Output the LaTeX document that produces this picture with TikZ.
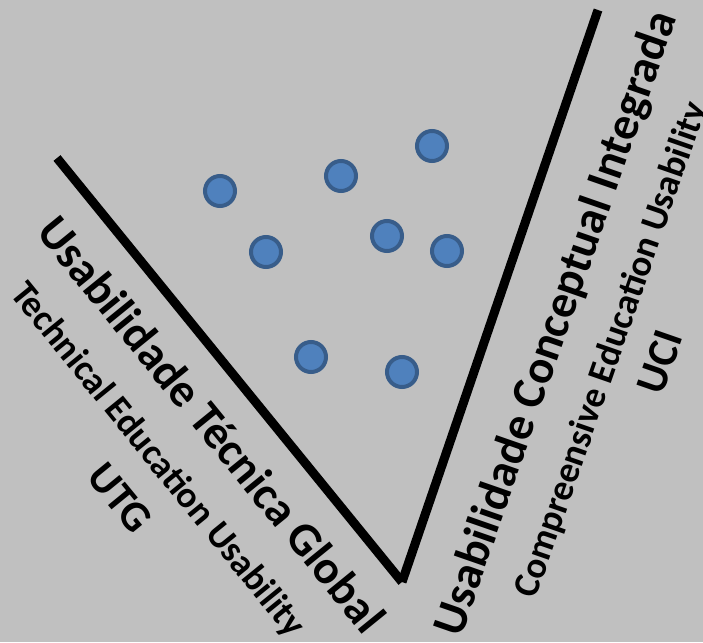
\documentclass[tikz,border=0pt]{standalone}
\usepackage{fontspec}
\setmainfont{Carlito}
\definecolor{bg}{HTML}{C0C0C0}
\definecolor{dotfill}{HTML}{4F81BD}
\definecolor{dotline}{HTML}{385D8A}
\begin{document}
\begin{tikzpicture}[x=1pt,y=-1pt,
  dot/.style={circle,fill=dotfill,draw=dotline,line width=4pt,minimum size=30pt,inner sep=0pt},
  axisline/.style={line width=9pt,black},
  bigtext/.style={inner sep=0pt,font=\bfseries\fontsize{47}{50}\selectfont},
  smalltext/.style={inner sep=0pt,font=\bfseries\fontsize{37}{40}\selectfont},
  abbrtext/.style={inner sep=0pt,font=\bfseries\fontsize{43}{46}\selectfont}]
\fill[bg] (0,0) rectangle (703,642);
\useasboundingbox (0,0) rectangle (703,642);
\coordinate (lt) at (57,158);
\coordinate (vb) at (402,582);
\coordinate (rt) at (598,10);
\draw[axisline] (lt) -- (vb);
\draw[axisline] (vb) -- (rt);
\node[dot] (d1) at (220,191) {};
\node[dot] (d2) at (341,176) {};
\node[dot] (d3) at (432,146) {};
\node[dot] (d4) at (266,252) {};
\node[dot] (d5) at (387,236) {};
\node[dot] (d6) at (447,251) {};
\node[dot] (d7) at (311,357) {};
\node[dot] (d8) at (402,372) {};
\node[bigtext,rotate=-50.9] (utgl) at (212,424) {Usabilidade Técnica Global};
\node[smalltext,rotate=-50.9] (teu) at (157,460) {Technical Education Usability};
\node[abbrtext,rotate=-50.7] (utg) at (120,498) {UTG};
\node[bigtext,rotate=70.85] (ucil) at (557,324) {Usabilidade Conceptual Integrada};
\node[smalltext,rotate=70.85] (ceu) at (612,350) {Compreensive Education Usability};
\node[abbrtext,rotate=70.85] (uci) at (660,362) {UCI};
\end{tikzpicture}
\end{document}
